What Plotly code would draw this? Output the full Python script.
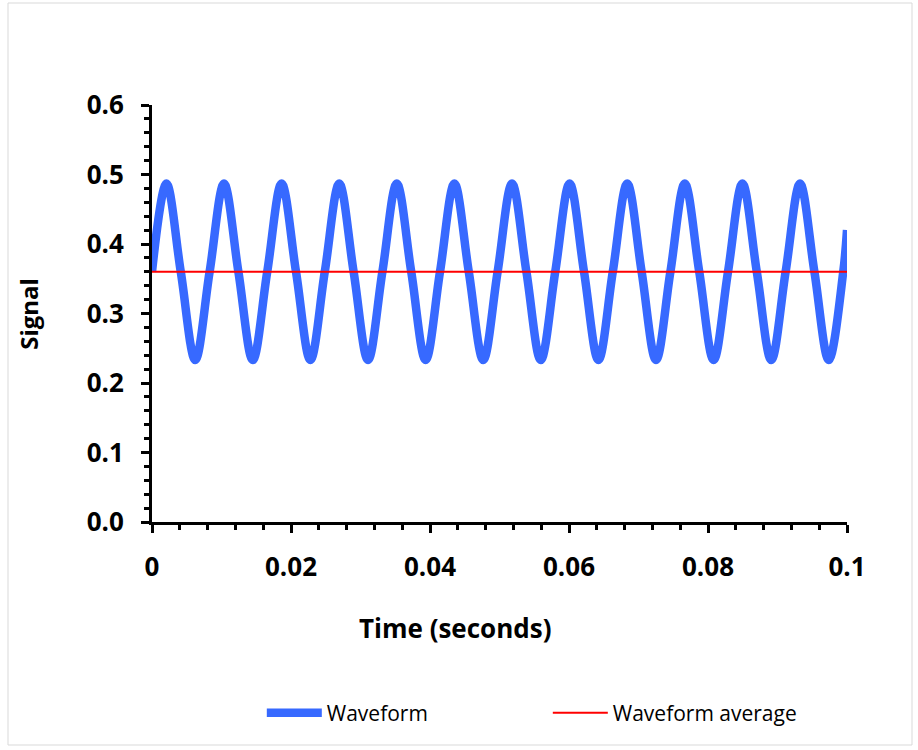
import plotly.graph_objects as go

# Time samples (seconds) read at quarter periods of the waveform
time_s = [0.0, 0.00207, 0.00414, 0.00622, 0.00829, 0.01036, 0.01243, 0.01450,
          0.01658, 0.01865, 0.02072, 0.02279, 0.02486, 0.02694, 0.02901, 0.03108,
          0.03315, 0.03522, 0.03730, 0.03937, 0.04144, 0.04351, 0.04558, 0.04766,
          0.04973, 0.05180, 0.05387, 0.05594, 0.05802, 0.06009, 0.06216, 0.06423,
          0.06630, 0.06838, 0.07045, 0.07252, 0.07459, 0.07666, 0.07874, 0.08081,
          0.08288, 0.08495, 0.08702, 0.08910, 0.09117, 0.09324, 0.09531, 0.09738,
          0.09946, 0.1]
signal = [0.360, 0.487, 0.360, 0.233, 0.360, 0.487, 0.360, 0.233,
          0.360, 0.487, 0.360, 0.233, 0.360, 0.487, 0.360, 0.233,
          0.360, 0.487, 0.360, 0.233, 0.360, 0.487, 0.360, 0.233,
          0.360, 0.487, 0.360, 0.233, 0.360, 0.487, 0.360, 0.233,
          0.360, 0.487, 0.360, 0.233, 0.360, 0.487, 0.360, 0.233,
          0.360, 0.487, 0.360, 0.233, 0.360, 0.487, 0.360, 0.233,
          0.360, 0.420]
avg_time = [0.0, 0.1]
avg_signal = [0.36, 0.36]

series_names = ["Waveform", "Waveform average"]
x_title = "Time (seconds)"
y_title = "Signal"

FONT = "Open Sans"
BLUE = "#3769FF"
RED = "#FF0000"

fig = go.Figure()
fig.add_trace(go.Scatter(x=time_s, y=signal, mode="lines", name=series_names[0],
                         line=dict(color=BLUE, width=8.5, shape="spline", smoothing=1.0)))
fig.add_trace(go.Scatter(x=avg_time, y=avg_signal, mode="lines", name=series_names[1],
                         line=dict(color=RED, width=2)))

fig.update_layout(
    width=918, height=750,
    margin=dict(l=152, r=71, t=105, b=228),
    paper_bgcolor="white", plot_bgcolor="white",
    font=dict(family=FONT, color="black"),
    showlegend=True,
    legend=dict(orientation="h", x=0.158, xanchor="left", y=-0.458, yanchor="middle",
                font=dict(family=FONT, size=21, color="black"),
                itemwidth=55, entrywidth=216, traceorder="normal"),
    xaxis=dict(range=[0, 0.1], dtick=0.02, tick0=0, showgrid=False, zeroline=False,
               showline=True, linecolor="black", linewidth=3,
               ticks="outside", ticklen=8, tickwidth=3, tickcolor="black",
               tickfont=dict(family=FONT, size=26, weight="bold", color="black"),
               ticklabelstandoff=12,
               minor=dict(dtick=0.004, ticks="outside", ticklen=5, tickwidth=3, tickcolor="black")),
    yaxis=dict(range=[0, 0.6], dtick=0.1, tick0=0, tickformat=".1f", showgrid=False, zeroline=False,
               showline=True, linecolor="black", linewidth=3,
               ticks="outside", ticklen=8, tickwidth=3, tickcolor="black",
               tickfont=dict(family=FONT, size=26, weight="bold", color="black"),
               ticklabelstandoff=12,
               minor=dict(dtick=0.02, ticks="outside", ticklen=5, tickwidth=3, tickcolor="black")),
    annotations=[
        dict(text=x_title, xref="paper", yref="paper", x=0.436, y=-0.254,
             xanchor="center", yanchor="middle", showarrow=False,
             font=dict(family=FONT, size=26, weight="bold", color="black")),
        dict(text=y_title, xref="paper", yref="paper", x=-0.178, y=0.5,
             xanchor="center", yanchor="middle", showarrow=False, textangle=-90,
             font=dict(family=FONT, size=24, weight="bold", color="black")),
    ],
    shapes=[dict(type="rect", xref="paper", yref="paper",
                 x0=(8 - 152) / 695, x1=(912 - 152) / 695,
                 y0=(522 - 745) / 417, y1=(522 - 3) / 417,
                 line=dict(color="#D9D9D9", width=1), fillcolor="rgba(0,0,0,0)", layer="below")],
)

fig.write_html("out.html")
